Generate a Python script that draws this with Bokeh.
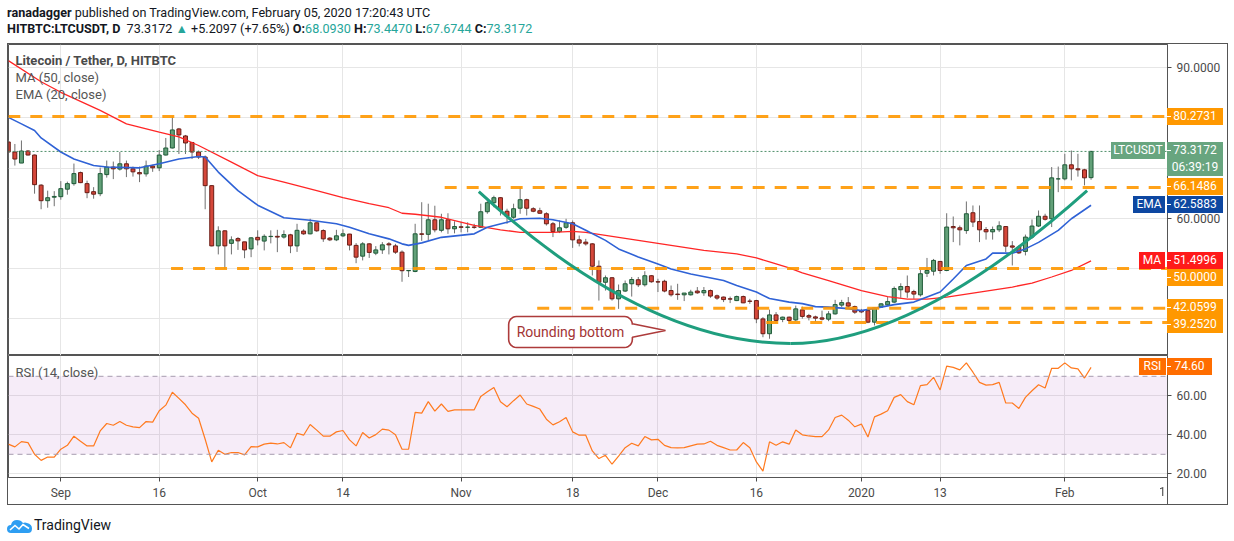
import numpy as np
import pandas as pd
from bokeh.plotting import figure
from bokeh.models import ColumnDataSource, FixedTicker, Label, Span, BoxAnnotation, Div, Range1d
from bokeh.layouts import column
from bokeh.embed import file_html
from bokeh.resources import INLINE

# ---------------- data ----------------
START = "2019-08-24"   # first (half-visible) daily candle

opens = [75.2, 73.2, 71.0, 73.4, 72.6, 66.6, 63.5, 64.2, 64.3, 65.8,
         66.9, 69.1, 66.9, 65.3, 64.9, 68.7, 70.2, 69.8, 70.85, 69.85,
         69.1, 68.85, 70.4, 70.05, 72.6, 74.0, 77.8, 76.4, 75.1, 73.2,
         72.2, 66.5, 54.5, 57.5, 55.0, 55.95, 55.3, 53.9, 56.2, 55.45,
         56.35, 56.4, 56.25, 56.7, 54.5, 57.45, 56.9, 59.1, 57.55, 56.05,
         55.7, 56.5, 56.85, 54.6, 52.45, 54.9, 53.05, 53.7, 54.9, 54.5,
         53.25, 49.55, 49.4, 56.9, 56.8, 59.7, 57.6, 59.7, 57.9, 58.3,
         58.2, 58.25, 58.2, 61.3, 63.1, 64.1, 61.4, 60.2, 62.0, 63.7,
         61.9, 61.5, 60.9, 58.9, 57.35, 58.2, 59.1, 55.7, 55.25, 54.9,
         50.45, 47.25, 48.15, 43.95, 45.5, 46.95, 47.75, 46.75, 48.55, 47.35,
         47.45, 45.6, 44.9, 44.75, 44.75, 45.5, 45.15, 45.6, 44.55, 44.3,
         43.95, 43.6, 44.4, 43.5, 43.6, 39.95, 37.0, 40.75, 39.85, 40.3,
         39.75, 41.75, 40.6, 40.35, 40.15, 39.9, 40.95, 42.7, 43.15, 42.4,
         41.6, 41.6, 39.3, 42.3, 42.75, 43.3, 45.75, 46.4, 45.4, 44.75,
         49.05, 49.45, 51.4, 49.6, 58.35, 58.1, 57.55, 61.1, 59.35, 57.75,
         57.3, 57.7, 58.35, 54.5, 54.25, 53.4, 56.25, 58.45, 60.4, 59.9,
         67.85, 67.85, 70.65, 69.85, 69.65, 68.093]
highs = [75.6, 74.8, 75.5, 73.6, 72.7, 66.8, 65.5, 65.4, 67.4, 67.3,
         70.9, 69.3, 67.5, 66.2, 70.1, 71.5, 71.3, 73.2, 71.5, 70.3,
         70.3, 71.5, 70.65, 73.6, 76.0, 80.3, 78.0, 76.6, 75.2, 73.5,
         72.5, 66.6, 58.4, 57.6, 56.4, 56.25, 55.3, 56.25, 57.6, 56.8,
         57.6, 57.7, 57.6, 56.9, 58.9, 57.8, 59.9, 59.15, 57.8, 56.25,
         57.7, 57.8, 56.9, 55.05, 55.25, 55.05, 54.45, 55.25, 55.25, 54.9,
         53.6, 49.65, 58.9, 63.2, 62.9, 62.5, 60.9, 61.0, 59.4, 59.3,
         59.2, 58.9, 62.9, 63.9, 64.5, 64.2, 61.9, 62.9, 66.2, 63.9,
         62.2, 62.1, 61.2, 59.25, 59.55, 59.9, 59.55, 56.55, 55.9, 55.05,
         51.6, 48.6, 48.3, 46.8, 47.6, 48.3, 48.3, 49.45, 48.7, 47.95,
         47.75, 46.6, 46.95, 45.1, 45.75, 46.3, 46.3, 45.8, 44.8, 44.4,
         44.4, 44.6, 44.6, 43.95, 43.75, 40.3, 41.8, 41.3, 40.4, 40.4,
         42.6, 42.4, 40.95, 40.6, 41.6, 41.5, 43.75, 43.75, 44.3, 42.6,
         41.95, 41.75, 42.3, 43.1, 44.3, 46.4, 47.05, 48.6, 45.75, 49.75,
         52.1, 51.9, 51.45, 61.0, 60.35, 58.55, 63.35, 62.55, 62.55, 58.25,
         58.35, 59.4, 58.35, 55.45, 54.6, 56.75, 59.75, 61.55, 60.9, 70.2,
         70.3, 72.85, 73.5, 72.85, 69.85, 73.447]
lows = [71.5, 70.5, 71.0, 72.5, 64.9, 61.8, 62.1, 62.4, 63.7, 64.7,
        66.5, 67.0, 64.0, 63.9, 64.4, 68.1, 67.8, 69.5, 68.2, 68.3,
        67.2, 68.3, 69.25, 69.4, 72.5, 73.9, 72.8, 72.8, 71.8, 71.8,
        61.8, 54.4, 52.8, 49.9, 52.8, 53.7, 52.05, 52.25, 54.6, 53.6,
        55.0, 53.25, 55.95, 53.05, 53.3, 56.7, 56.8, 57.3, 55.3, 55.45,
        55.45, 56.25, 53.6, 51.05, 51.6, 52.1, 52.65, 52.9, 52.8, 52.9,
        47.35, 48.3, 49.25, 55.5, 55.6, 57.2, 57.2, 56.9, 57.0, 57.2,
        57.2, 57.9, 58.1, 60.9, 62.2, 60.55, 58.9, 59.9, 60.9, 60.55,
        61.2, 60.9, 58.55, 56.25, 57.05, 57.9, 54.1, 54.4, 54.55, 48.6,
        43.6, 45.6, 43.6, 41.95, 45.3, 44.4, 46.3, 46.4, 47.15, 45.3,
        45.25, 44.4, 43.75, 43.5, 44.6, 44.95, 44.55, 44.15, 43.75, 43.3,
        43.1, 43.5, 43.1, 42.95, 39.1, 36.3, 36.0, 39.1, 39.3, 39.3,
        39.5, 40.0, 39.65, 39.4, 39.65, 39.5, 40.8, 42.3, 41.95, 40.95,
        41.1, 39.1, 38.65, 42.2, 42.5, 43.1, 44.15, 44.15, 43.95, 44.4,
        48.3, 48.6, 48.95, 49.45, 55.25, 54.6, 56.9, 58.25, 55.25, 55.75,
        55.75, 57.25, 53.25, 50.6, 52.9, 52.6, 55.9, 58.25, 59.55, 58.25,
        65.2, 67.55, 67.55, 68.3, 66.55, 67.6744]
closes = [73.2, 71.8, 73.4, 72.6, 66.7, 63.5, 64.1, 64.35, 65.9, 66.9,
          68.9, 67.1, 65.1, 64.8, 68.9, 70.2, 69.85, 70.85, 69.85, 69.25,
          68.85, 70.4, 70.05, 72.6, 74.0, 77.6, 76.6, 75.0, 73.2, 72.2,
          66.5, 54.5, 57.5, 54.5, 55.7, 55.5, 53.7, 56.1, 55.7, 56.4,
          56.4, 56.25, 56.75, 54.5, 57.6, 56.9, 59.1, 57.5, 55.9, 55.7,
          56.5, 56.9, 54.65, 52.25, 54.9, 53.2, 53.7, 54.7, 54.7, 53.25,
          49.55, 49.6, 56.9, 56.8, 59.7, 57.7, 59.7, 57.9, 58.35, 58.2,
          58.25, 58.2, 61.3, 63.1, 64.1, 61.55, 60.4, 61.9, 63.7, 62.0,
          61.4, 61.0, 58.9, 57.35, 58.1, 59.1, 55.7, 55.05, 54.9, 50.45,
          47.25, 48.15, 43.95, 45.6, 46.95, 47.8, 46.75, 48.55, 47.35, 47.3,
          45.5, 44.75, 44.8, 45.1, 45.3, 45.15, 45.6, 44.5, 44.1, 43.8,
          43.9, 44.4, 43.15, 43.45, 39.95, 37.0, 40.75, 39.65, 40.3, 39.65,
          41.95, 40.45, 40.3, 40.1, 39.9, 40.95, 42.8, 43.2, 42.5, 41.3,
          41.35, 39.3, 42.15, 42.95, 43.4, 46.0, 46.4, 45.3, 44.9, 48.95,
          49.6, 51.6, 49.6, 58.25, 58.1, 57.7, 60.9, 59.25, 57.7, 57.3,
          57.75, 58.5, 54.45, 54.25, 53.1, 56.25, 58.45, 60.4, 59.8, 68.05,
          67.85, 70.65, 69.85, 69.65, 68.06, 73.3172]

rsi = [35.2, 33.8, 36.5, 36.0, 30.0, 26.9, 28.6, 28.6, 32.6, 34.6,
       39.3, 36.7, 34.3, 34.3, 42.0, 45.8, 44.9, 46.8, 44.9, 44.1,
       43.7, 46.8, 46.5, 52.3, 55.2, 61.8, 58.7, 55.4, 51.1, 48.5,
       37.7, 26.1, 32.1, 30.0, 30.9, 30.9, 29.7, 33.9, 33.8, 35.2,
       35.7, 35.3, 36.0, 33.3, 40.8, 39.8, 45.3, 42.4, 39.3, 39.3,
       41.5, 42.2, 37.4, 34.3, 41.2, 38.4, 40.1, 42.9, 42.4, 40.0,
       32.6, 32.6, 51.5, 51.1, 57.0, 52.1, 55.8, 52.0, 52.8, 52.8,
       52.8, 52.8, 59.7, 62.1, 64.3, 57.0, 54.4, 57.5, 60.4, 55.8,
       54.6, 53.2, 48.0, 45.1, 46.7, 48.9, 41.5, 39.8, 39.8, 31.7,
       27.8, 29.5, 24.9, 29.1, 33.4, 35.7, 34.3, 39.1, 37.4, 37.7,
       34.6, 33.4, 33.3, 33.4, 34.3, 35.2, 35.3, 36.7, 34.6, 33.4,
       32.2, 32.2, 36.0, 33.4, 26.1, 21.4, 36.4, 34.6, 36.4, 35.2,
       42.5, 40.0, 39.4, 39.1, 39.1, 42.5, 48.9, 50.1, 47.5, 44.1,
       45.5, 38.9, 49.2, 50.6, 52.3, 59.2, 60.6, 57.0, 55.4, 65.2,
       65.7, 69.5, 63.0, 75.2, 74.6, 73.3, 76.9, 72.1, 66.9, 65.5,
       65.7, 66.9, 56.3, 56.3, 53.5, 59.2, 62.6, 65.7, 64.0, 74.1,
       74.1, 76.9, 74.3, 73.8, 69.1, 74.6]

# MA(50) and EMA(20) at these day indices
ma_idx = [0, 5, 8, 14, 18, 23, 26, 29, 34, 38, 42, 47, 51, 55, 58, 60, 62, 66, 71, 75,
          78, 83, 86, 88, 91, 96, 101, 106, 111, 114, 116, 119, 121, 125, 130, 134, 137, 140, 143, 148,
          153, 156, 159, 162, 165]
ma_val = [91.4, 87.2, 85.1, 81.5, 78.8, 77.15, 76.2, 74.5, 71.2, 68.5, 67.2, 65.5, 64.1, 62.9, 62.1, 61.0, 60.8, 60.2, 58.6, 57.7,
          57.2, 57.2, 57.4, 57.2, 56.6, 55.6, 54.6, 53.6, 52.9, 52.1, 51.3, 50.1, 49.1, 47.6, 45.6, 44.4, 43.9, 43.9, 44.3, 45.3,
          46.3, 47.1, 48.3, 49.6, 51.5]
ema_idx = [0, 2, 4, 5, 8, 10, 13, 15, 20, 23, 26, 29, 30, 32, 35, 38, 42, 46, 50, 52,
           55, 58, 60, 61, 63, 66, 71, 73, 76, 78, 81, 83, 86, 88, 91, 93, 96, 99, 101, 104,
           109, 111, 114, 116, 119, 121, 123, 125, 128, 130, 133, 135, 138, 140, 142, 144, 146, 149, 150, 153,
           155, 157, 160, 162, 165]
ema_val = [80.1, 78.8, 77.5, 76.0, 73.2, 71.8, 70.5, 70.2, 70.05, 70.85, 71.8, 72.3, 72.2, 69.2, 65.5, 62.6, 60.1, 59.6, 58.9, 58.2,
           56.9, 55.9, 54.9, 54.6, 55.1, 56.2, 56.9, 58.2, 59.2, 59.9, 60.0, 59.7, 58.9, 57.6, 55.6, 53.9, 52.3, 50.9, 49.9, 48.9,
           47.6, 46.6, 45.3, 44.0, 43.3, 43.0, 42.4, 42.3, 42.0, 41.6, 42.3, 42.8, 43.3, 44.3, 45.3, 47.9, 50.6, 51.9, 53.05, 53.05,
           53.9, 55.2, 57.6, 59.9, 62.59]

tick_dates = ["2019-09-01", "2019-09-16", "2019-10-01", "2019-10-14", "2019-11-01", "2019-11-18",
              "2019-12-01", "2019-12-16", "2020-01-01", "2020-01-13", "2020-02-01"]
tick_labels = ["Sep", "16", "Oct", "14", "Nov", "18", "Dec", "16", "2020", "13", "Feb"]

levels = [80.2731, 66.1486, 50.0, 42.0599, 39.2520]
level_text = ["80.2731", "66.1486", "50.0000", "42.0599", "39.2520"]
level_start = [0.0, 66.5, 24.8, 80.6, 115.5]      # day index where each drawn level begins
last_price = 73.3172
ema_last, ma_last, rsi_last = 62.5883, 51.4996, 74.60

# rounding-bottom arc (drawing): start, bottom, end and the two control xs
arc_x = [71.7, 119.2, 164.4]
arc_y = [65.3, 35.05, 65.5]
arc_cx = [97.0, 138.3]

# ---------------- styling / geometry ----------------
FONT = "Roboto"
GRID = "#e6e6e6"
BORDER = "#555555"
AXIS_TXT = "#4a4a4a"
UP_FILL, UP_EDGE = "#62a078", "#1f5a38"
DN_FILL, DN_EDGE = "#d5473a", "#6a1d16"
WICK = "#707070"
ORANGE = "#ff9800"

FIG_W = 1219
FRAME_L, FRAME_R = 8, 1167           # page pixels of the frames
A_TOP, A_H = 44, 311                 # main pane
B_TOP, B_FH, B_H = 355, 122, 149     # RSI pane (frame height, figure height)
X0, X1 = 0.03, 176.65
PPD = (FRAME_R - FRAME_L) / (X1 - X0)
Y0, Y1 = 32.66, 94.62
PPY = A_H / (Y1 - Y0)
R0, R1 = 18.1, 80.67
PPR = B_FH / (R1 - R0)

def py_price(v):
    return A_TOP + (Y1 - v) * PPY

def py_rsi(v):
    return B_TOP + (R1 - v) * PPR

n = len(closes)
day = list(range(n))
up = [c >= o for o, c in zip(opens, closes)]
src = ColumnDataSource(dict(
    day=day, high=highs, low=lows,
    top=[max(o, c) for o, c in zip(opens, closes)],
    bottom=[min(o, c) for o, c in zip(opens, closes)],
    fill=[UP_FILL if u else DN_FILL for u in up],
    edge=[UP_EDGE if u else DN_EDGE for u in up],
))
t0 = pd.Timestamp(START)
tick_idx = [(pd.Timestamp(d) - t0).days for d in tick_dates]

xr = Range1d(X0, X1)

# ---------------- main pane ----------------
pa = figure(width=FIG_W, height=A_H, x_range=xr, y_range=Range1d(Y0, Y1),
            x_axis_location=None, y_axis_location="right",
            output_backend="svg", toolbar_location=None,
            min_border_left=0, min_border_right=FIG_W - (FRAME_R - FRAME_L),
            min_border_top=0, min_border_bottom=0)
pa.outline_line_color = BORDER
pa.xgrid.ticker = FixedTicker(ticks=tick_idx)
pa.xgrid.grid_line_color = GRID
pa.ygrid.grid_line_color = GRID
ya = pa.yaxis[0]
ya.ticker = FixedTicker(ticks=[40, 50, 60, 70, 80, 90])
ya.major_label_overrides = {40: "", 50: "", 60: "60.0000", 70: "", 80: "", 90: "90.0000"}
ya.major_label_text_font = FONT
ya.major_label_text_font_size = "12px"
ya.major_label_text_color = AXIS_TXT
ya.major_tick_out = 4
ya.major_tick_in = 0
ya.minor_tick_out = 0
ya.minor_tick_in = 0
ya.major_label_standoff = 5
ya.axis_line_color = BORDER
ya.major_tick_line_color = AXIS_TXT

pa.add_layout(Span(location=last_price, dimension="width", line_color="#4f8f6a",
                   line_dash="2 2", line_width=1))

pa.segment(x0="day", y0="high", x1="day", y1="low", source=src, line_color=WICK, line_width=1)
pa.vbar(x="day", width=0.6, top="top", bottom="bottom", source=src,
        fill_color="fill", line_color="edge", line_width=1)

pa.line(ma_idx, ma_val, line_color="#ff2626", line_width=1.3)
pa.line(ema_idx, ema_val, line_color="#2f62d6", line_width=1.6)

pa.ray(x=level_start, y=levels, length=0, angle=0, line_color=ORANGE,
       line_width=3, line_dash="12 10", line_alpha=0.9)

pa.quadratic(x0=arc_x[:2], y0=arc_y[:2], x1=arc_x[1:], y1=arc_y[1:],
             cx=arc_cx, cy=[arc_y[1], arc_y[1]], line_color="#1f9e7e", line_width=3)

# callout bubble "Rounding bottom"
bl, br, bt, bb = 76.25, 95.1, 40.43, 34.25
tip_x, tip_y, base_t, base_b = 100.15, 37.64, 38.98, 36.31
rx, ry = 1.2, 1.6
def arc(cx, cy, a0, a1):
    t = np.linspace(a0, a1, 7)
    return list(cx + rx * np.cos(t)), list(cy + ry * np.sin(t))
bx, by = [], []
for (cx, cy, a0, a1) in [(bl + rx, bt - ry, np.pi, np.pi / 2), (br - rx, bt - ry, np.pi / 2, 0)]:
    ax, ay = arc(cx, cy, a0, a1); bx += ax; by += ay
bx += [br, tip_x, br]; by += [base_t, tip_y, base_b]
for (cx, cy, a0, a1) in [(br - rx, bb + ry, 0, -np.pi / 2), (bl + rx, bb + ry, -np.pi / 2, -np.pi)]:
    ax, ay = arc(cx, cy, a0, a1); bx += ax; by += ay
pa.patch(bx, by, fill_color="white", line_color="#ad3b3b", line_width=1.6)
pa.add_layout(Label(x=(bl + br) / 2, y=(bt + bb) / 2, text="Rounding bottom", text_align="center",
                    text_baseline="middle", text_font=FONT, text_font_size="14px", text_color="#a23434"))

# pane legend
lx = X0 + 7 / PPD
for txt, py, bold, col in [("Litecoin / Tether, D, HITBTC", 60, "bold", "#4a4a4a"),
                           ("MA (50, close)", 77, "normal", "#555555"),
                           ("EMA (20, close)", 94, "normal", "#555555")]:
    pa.add_layout(Label(x=lx, y=Y1 - (py - A_TOP) / PPY, text=txt, text_align="left", text_baseline="middle",
                        text_font=FONT, text_font_size="13px", text_font_style=bold, text_color=col))

# ---------------- RSI pane ----------------
pb = figure(width=FIG_W, height=B_H, x_range=xr, y_range=Range1d(R0, R1),
            y_axis_location="right", output_backend="svg", toolbar_location=None,
            min_border_left=0, min_border_right=FIG_W - (FRAME_R - FRAME_L),
            min_border_top=0, min_border_bottom=B_H - B_FH)
pb.outline_line_color = BORDER
pb.xgrid.ticker = FixedTicker(ticks=tick_idx)
pb.xgrid.grid_line_color = GRID
pb.ygrid.grid_line_color = GRID
pb.add_layout(BoxAnnotation(bottom=30, top=70, fill_color="#9c27b0", fill_alpha=0.09,
                            line_color=None, level="underlay"))
for lv in (70, 30):
    pb.add_layout(Span(location=lv, dimension="width", line_color="#a79db0",
                       line_dash="5 4", line_width=1))
pb.line(day, rsi, line_color="#ff7a1f", line_width=1.2)

yb = pb.yaxis[0]
yb.ticker = FixedTicker(ticks=[20, 40, 60])
yb.major_label_overrides = {20: "20.00", 40: "40.00", 60: "60.00"}
xb = pb.xaxis[0]
xb.ticker = FixedTicker(ticks=tick_idx)
xb.major_label_overrides = {i: l for i, l in zip(tick_idx, tick_labels)}
for ax in (yb, xb):
    ax.major_label_text_font = FONT
    ax.major_label_text_font_size = "12px"
    ax.major_label_text_color = AXIS_TXT
    ax.major_tick_out = 4
    ax.major_tick_in = 0
    ax.minor_tick_out = 0
    ax.minor_tick_in = 0
    ax.major_label_standoff = 5 if ax is yb else 4
    ax.axis_line_color = BORDER
    ax.major_tick_line_color = AXIS_TXT

pb.add_layout(Label(x=X0 + 7 / PPD, y=R1 - (372 - B_TOP) / PPR, text="RSI (14, close)", text_align="left",
                    text_baseline="middle", text_font=FONT, text_font_size="13px", text_color="#555555"))

# ---------------- price-scale tags (drawn over the scale margin) ----------------
def tag(text, bg, left, width, cy, tick=False):
    t = ('<div style="position:fixed;z-index:50;left:%dpx;top:%.1fpx;width:%dpx;height:17px;'
         'background:%s;color:#ffffff;font-family:Roboto;font-size:12px;line-height:17px;'
         'text-align:center;white-space:nowrap;">' % (left, cy - 8.5, width, bg))
    if tick:
        t += '<span style="position:absolute;left:0;top:8px;width:4px;height:1px;background:#ffffff"></span>'
    return t + text + '</div>'

GREEN_TAG = "#68a57f"
tags = []
tags.append(tag(level_text[0], ORANGE, 1167, 56, py_price(levels[0]), True))
tags.append(tag("73.3172", GREEN_TAG, 1167, 56, py_price(last_price), True))
tags.append(tag("06:39:19", GREEN_TAG, 1167, 56, py_price(last_price) + 17))
tags.append(tag("LTCUSDT", GREEN_TAG, 1111, 54, py_price(last_price)))
tags.append(tag(level_text[1], ORANGE, 1167, 56, py_price(levels[1]), True))
tags.append(tag("62.5883", "#0d47a1", 1167, 56, py_price(ema_last), True))
tags.append(tag("EMA", "#0d47a1", 1133, 32, py_price(ema_last)))
tags.append(tag("51.4996", "#ff1a1a", 1167, 56, py_price(ma_last), True))
tags.append(tag("MA", "#ff1a1a", 1139, 26, py_price(ma_last)))
tags.append(tag(level_text[2], ORANGE, 1167, 56, py_price(ma_last) + 17, True))
tags.append(tag(level_text[3], ORANGE, 1167, 56, py_price(levels[3]), True))
tags.append(tag(level_text[4], ORANGE, 1167, 56, py_price(levels[3]) + 17, True))
tags.append(tag("74.60", "#ff6d00", 1167, 45, py_rsi(rsi_last), True))
tags.append(tag("RSI", "#ff6d00", 1139, 27, py_rsi(rsi_last)))
# partially hidden "17" date label at the right end of the time scale
tags.append('<div style="position:fixed;z-index:50;left:1159px;top:484px;font-family:Roboto;'
            'font-size:12px;color:%s">1</div>' % AXIS_TXT)
# price-scale separator continuing through the time-scale strip
tags.append('<div style="position:fixed;z-index:50;left:1166.5px;top:%dpx;width:1px;height:%dpx;'
            'background:%s"></div>' % (B_TOP + B_FH, B_H - B_FH, BORDER))

# ---------------- page furniture ----------------
teal = "#26a69a"
header = Div(width=1234, height=43, margin=0, text=(
    '<div style="font-family:Roboto;font-size:12.6px;line-height:16px;color:#131722;'
    'padding:5px 0 0 7px;white-space:nowrap">'
    '<b>ranadagger</b> published on TradingView.com, February 05, 2020 17:20:43 UTC<br>'
    '<b>HITBTC:LTCUSDT, D</b>&nbsp; 73.3172 <span style="color:%s">&#9650;</span> +5.2097 (+7.65%%) '
    '<b>O:</b><span style="color:%s">68.0930</span> <b>H:</b><span style="color:%s">73.4470</span> '
    '<b>L:</b><span style="color:%s">67.6744</span> <b>C:</b><span style="color:%s">73.3172</span>'
    '</div>') % (teal, teal, teal, teal, teal))

logo = Div(width=1234, height=30, margin=0, text=(
    '<div style="display:flex;align-items:center;padding:10px 0 0 7px;font-family:Roboto;'
    'font-size:14px;color:#131722;">'
    '<svg width="25" height="15" viewBox="0 0 25 15">'
    '<path d="M4 15 Q0 15 0 11 Q0 7 4 7 Q5 2 10 2 Q14 2 16 5 Q18 4 20 5 Q25 6 25 10.5 Q25 15 21 15 Z" fill="#2e9ef2"/>'
    '<polyline points="3,12 8,7.5 12,11 16,6.5 22,10.5" stroke="#ffffff" stroke-width="1.6" fill="none"/>'
    '</svg><span style="margin-left:2px">TradingView</span></div>' + "".join(tags)))

box = column(pa, pb, margin=(0, 0, 0, 7), styles={"border": "1px solid #555555"})
layout = column(header, box, logo)

open("out.html", "w").write(file_html(layout, INLINE, title="LTCUSDT"))
